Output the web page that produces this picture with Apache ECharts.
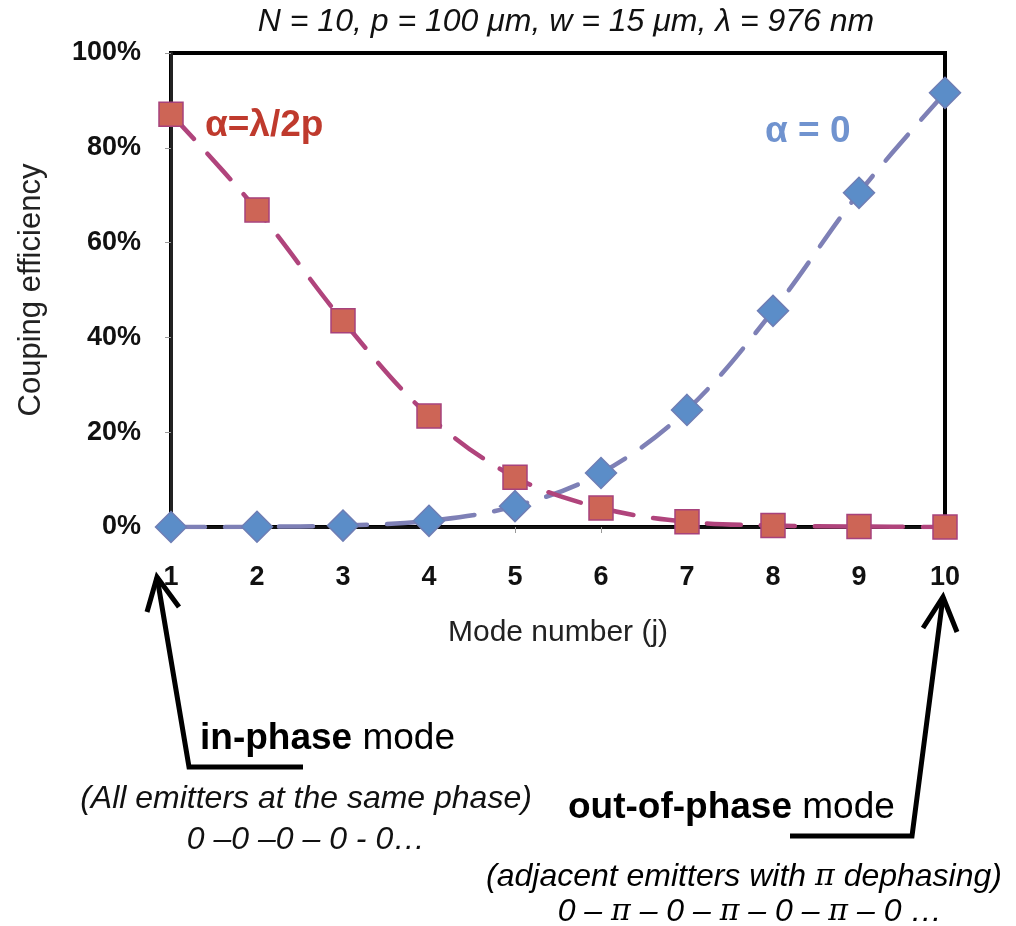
<!DOCTYPE html>
<html>
<head>
<meta charset="utf-8">
<script src="https://cdn.jsdelivr.net/npm/echarts@6/dist/echarts.min.js"></script>
<style>
  html, body { margin: 0; padding: 0; background: #fff; }
  #chart { width: 1016px; height: 926px; }
</style>
</head>
<body>
<div id="chart"></div>
<script>
// Mode numbers j of the 10-emitter array
const modes = ['1', '2', '3', '4', '5', '6', '7', '8', '9', '10'];
// Coupling efficiency per mode, tilt alpha = lambda / 2p
const alphaHalfPitch = [0.871, 0.669, 0.435, 0.234, 0.105, 0.040, 0.011, 0.003, 0.001, 0.0];
// Coupling efficiency per mode, tilt alpha = 0
const alphaZero = [0.0, 0.0005, 0.003, 0.013, 0.044, 0.114, 0.247, 0.456, 0.705, 0.916];
// Y axis ticks (fraction)
const yMin = 0, yMax = 1, yStep = 0.2;

const FONT = '"Liberation Sans", Arial, sans-serif';
const chart = echarts.init(document.getElementById('chart'), null, { renderer: 'canvas' });

chart.setOption({
  backgroundColor: '#fff',
  animation: false,
  grid: {
    left: 171, right: 71, top: 53, bottom: 399,
    show: true, borderColor: '#000', borderWidth: 4, backgroundColor: 'transparent'
  },
  xAxis: {
    type: 'category',
    data: modes,
    boundaryGap: false,
    name: 'Mode number (j)',
    nameLocation: 'middle',
    nameGap: 91,
    nameTextStyle: { fontFamily: FONT, fontSize: 30, color: '#222' },
    axisLine: { lineStyle: { color: '#111', width: 3 } },
    axisTick: { show: true, inside: false, length: 6, lineStyle: { color: '#999', width: 1 } },
    axisLabel: { margin: 37, fontFamily: FONT, fontSize: 27, fontWeight: 'bold', color: '#111' },
    splitLine: { show: false }
  },
  yAxis: {
    type: 'value',
    min: yMin, max: yMax, interval: yStep,
    name: 'Couping efficiency',
    nameLocation: 'middle',
    nameRotate: 90,
    nameGap: 124,
    nameTextStyle: { fontFamily: FONT, fontSize: 31, color: '#222' },
    axisLine: { show: true, lineStyle: { color: '#222', width: 3 } },
    axisTick: { show: true, inside: false, length: 6, lineStyle: { color: '#999', width: 1 } },
    axisLabel: {
      margin: 30, fontFamily: FONT, fontSize: 27, fontWeight: 'bold', color: '#111',
      formatter: v => Math.round(v * 100) + '%'
    },
    splitLine: { show: false }
  },
  series: [
    {
      name: 'α = 0',
      type: 'line',
      data: alphaZero,
      smooth: 0.35,
      symbol: 'diamond',
      symbolSize: 31,
      itemStyle: { color: '#5B8DC8', borderColor: '#6E7EB5', borderWidth: 1.5 },
      lineStyle: { color: '#7E80B6', width: 4.5, type: [34, 20], cap: 'round' },
      z: 3
    },
    {
      name: 'α=λ/2p',
      type: 'line',
      data: alphaHalfPitch,
      smooth: 0.35,
      symbol: 'rect',
      symbolSize: 24,
      itemStyle: { color: '#CD6556', borderColor: '#A7427C', borderWidth: 1.5 },
      lineStyle: { color: '#B0447C', width: 4.5, type: [34, 20], cap: 'round' },
      z: 4
    }
  ]
});

// Annotation layer: title, series names and the two arrows pointing at the first and last mode
const x1 = chart.convertToPixel({ xAxisIndex: 0 }, 0);
const x10 = chart.convertToPixel({ xAxisIndex: 0 }, modes.length - 1);
const y0 = chart.convertToPixel({ yAxisIndex: 0 }, 0);
const plotCenter = (x1 + x10) / 2;

const arrowStyle = { stroke: '#000', lineWidth: 5, fill: null, lineJoin: 'miter', lineCap: 'butt' };
const italic = { fontFamily: FONT, fontSize: 32, fontStyle: 'italic', color: '#111' };
const piStyle = { fontFamily: '"DejaVu Serif", serif', fontSize: 30, fontStyle: 'italic', color: '#111' };

chart.setOption({
  graphic: [
    {
      type: 'text', x: plotCenter + 8, y: 22,
      style: { text: 'N = 10, p = 100 μm, w = 15 μm, λ = 976 nm', fill: '#111',
               font: 'italic 32px "Liberation Sans", Arial, sans-serif',
               textAlign: 'center', textVerticalAlign: 'middle' }
    },
    {
      type: 'text', x: 205, y: 126,
      style: { text: 'α=λ/2p', fill: '#BF3A2D', font: 'bold 37px "Liberation Sans", Arial, sans-serif',
               textAlign: 'left', textVerticalAlign: 'middle' }
    },
    {
      type: 'text', x: 765, y: 132,
      style: { text: 'α = 0', fill: '#7093CF', font: 'bold 37px "Liberation Sans", Arial, sans-serif',
               textAlign: 'left', textVerticalAlign: 'middle' }
    },
    // in-phase arrow
    {
      type: 'polyline',
      shape: { points: [[303, 767], [189, 767], [x1 - 14, y0 + 50]] },
      style: arrowStyle
    },
    {
      type: 'polyline',
      shape: { points: [[x1 - 24, y0 + 85], [x1 - 14, y0 + 50], [x1 + 8, y0 + 80]] },
      style: arrowStyle
    },
    // out-of-phase arrow
    {
      type: 'polyline',
      shape: { points: [[790, 836], [912, 836], [x10 - 2, y0 + 70]] },
      style: arrowStyle
    },
    {
      type: 'polyline',
      shape: { points: [[x10 - 22, y0 + 101], [x10 - 2, y0 + 70], [x10 + 12, y0 + 105]] },
      style: arrowStyle
    },
    {
      type: 'text', x: 200, y: 739,
      style: {
        text: '{b|in-phase}{n| mode}',
        textAlign: 'left', textVerticalAlign: 'middle',
        rich: {
          b: { fontFamily: FONT, fontSize: 37, fontWeight: 'bold', color: '#111' },
          n: { fontFamily: FONT, fontSize: 37, color: '#111' }
        }
      }
    },
    {
      type: 'text', x: 306, y: 799,
      style: { text: '(All emitters at the same phase)', textAlign: 'center', textVerticalAlign: 'middle',
               font: 'italic 32px "Liberation Sans", Arial, sans-serif', fill: '#111' }
    },
    {
      type: 'text', x: 306, y: 840,
      style: { text: '0 –0 –0 – 0 - 0…', textAlign: 'center', textVerticalAlign: 'middle',
               font: 'italic 32px "Liberation Sans", Arial, sans-serif', fill: '#111' }
    },
    {
      type: 'text', x: 568, y: 808,
      style: {
        text: '{b|out-of-phase}{n| mode}',
        textAlign: 'left', textVerticalAlign: 'middle',
        rich: {
          b: { fontFamily: FONT, fontSize: 37, fontWeight: 'bold', color: '#111' },
          n: { fontFamily: FONT, fontSize: 37, color: '#111' }
        }
      }
    },
    {
      type: 'text', x: 744, y: 877,
      style: {
        text: '{i|(adjacent emitters with }{p|π}{i| dephasing)}',
        textAlign: 'center', textVerticalAlign: 'middle',
        rich: { i: italic, p: piStyle }
      }
    },
    {
      type: 'text', x: 750, y: 912,
      style: {
        text: '{i|0 – }{p|π}{i| – 0 – }{p|π}{i| – 0 – }{p|π}{i| – 0 …}',
        textAlign: 'center', textVerticalAlign: 'middle',
        rich: { i: italic, p: piStyle }
      }
    }
  ]
});
</script>
</body>
</html>
